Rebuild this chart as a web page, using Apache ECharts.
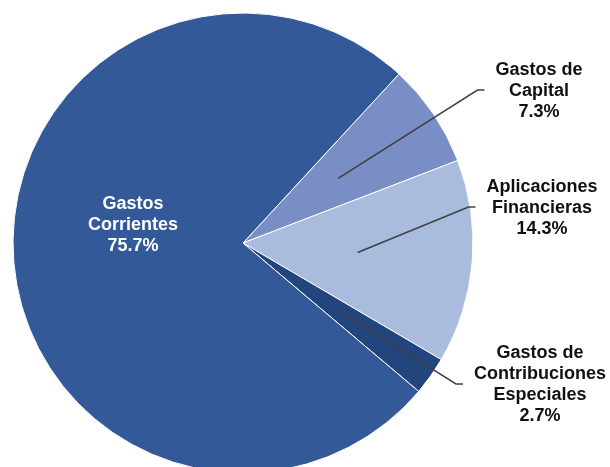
<!DOCTYPE html>
<html>
<head>
<meta charset="utf-8">
<script src="https://cdn.jsdelivr.net/npm/echarts@6/dist/echarts.min.js"></script>
<style>html,body{margin:0;padding:0;background:#fff;}#c{width:610px;height:467px;}</style>
</head>
<body>
<div id="c"></div>
<script>
const categories = ['Gastos de Capital', 'Aplicaciones Financieras', 'Gastos de Contribuciones Especiales', 'Gastos Corrientes'];
const labelNames = ['Gastos de\nCapital', 'Aplicaciones\nFinancieras', 'Gastos de\nContribuciones\nEspeciales', 'Gastos\nCorrientes'];
const shares = [7.3, 14.3, 2.7, 75.7];
const colors = ['#7A8EC6', '#AABCDD', '#22457E', '#335998'];

const labelSpots = [[539, 91], [542, 208], [540, 385], [133, 225]];

const chart = echarts.init(document.getElementById('c'), null, {renderer: 'canvas'});
const mainData = categories.map((c, i) => ({name: c, value: shares[i], itemStyle: {color: colors[i]}}));
const overlayData = categories.map((c, i) => ({
  name: c, value: shares[i],
  label: {color: i === 3 ? '#ffffff' : '#111111'},
  labelLine: {show: i !== 3}
}));

chart.setOption({
  animation: false,
  series: [
    {
      type: 'pie',
      z: 2,
      center: [243, 243],
      radius: 230,
      startAngle: 47.3,
      clockwise: true,
      silent: true,
      label: {show: false},
      labelLine: {show: false},
      itemStyle: {borderColor: '#ffffff', borderWidth: 1},
      data: mainData
    },
    {
      type: 'pie',
      z: 5,
      center: [243, 243],
      radius: 115,
      startAngle: 47.3,
      clockwise: true,
      silent: true,
      avoidLabelOverlap: false,
      itemStyle: {color: 'rgba(0,0,0,0)', borderWidth: 0},
      label: {
        show: true,
        position: 'outside',
        formatter: p => labelNames[p.dataIndex] + '\n' + p.value.toFixed(1) + '%',
        fontFamily: 'Liberation Sans, Arial, sans-serif',
        fontWeight: 'bold',
        fontSize: 18,
        lineHeight: 21,
        align: 'center',
        padding: 0
      },
      labelLine: {show: true, length: 10, length2: 10, z: 10, lineStyle: {color: '#404040', width: 1.5}},
      labelLayout: function (params) {
        const i = params.dataIndex;
        const x = labelSpots[i][0], y = labelSpots[i][1];
        if (i === 3) {
          return {x: x, y: y, align: 'center', verticalAlign: 'middle'};
        }
        const w = params.labelRect.width;
        const start = params.labelLinePoints[0];
        const ex = x - w / 2 - 11;
        const ly = y - 1;
        return {
          x: x, y: y, align: 'center', verticalAlign: 'middle',
          labelLinePoints: [start, [ex - 7, ly], [ex, ly]]
        };
      },
      data: overlayData
    }
  ]
});
</script>
</body>
</html>
